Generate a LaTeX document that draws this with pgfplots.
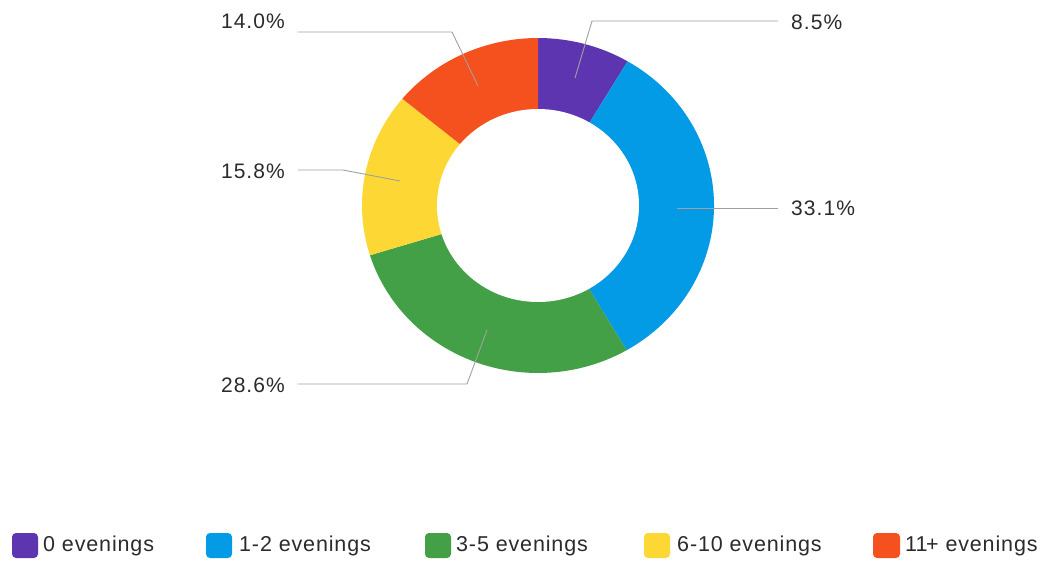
\documentclass[border=0pt]{standalone}
\usepackage{pgfplots}
\pgfplotsset{compat=1.18}
\usepackage{pgfplotstable}
\usepackage{fontspec}
\setmainfont{Liberation Sans}
\newfontfamily\spaced[LetterSpace=5]{Liberation Sans}
\newfontfamily\legspaced[LetterSpace=4]{Liberation Sans}

\definecolor{c0}{HTML}{5E35B1}
\definecolor{c1}{HTML}{039BE5}
\definecolor{c2}{HTML}{43A047}
\definecolor{c3}{HTML}{FDD835}
\definecolor{c4}{HTML}{F4511E}
\definecolor{lead}{HTML}{A0A0A0}
\definecolor{txt}{HTML}{2B2B2B}

% share of respondents, clockwise from 12 o'clock
\pgfplotstableread[col sep=comma]{
cat,val
0 evenings,8.5
1-2 evenings,33.1
3-5 evenings,28.6
6-10 evenings,15.8
11+ evenings,14.0
}\donut

\begin{document}
\begin{tikzpicture}
% start / end angle of every wedge
\def\cum{0}
\pgfplotsforeachungrouped \i in {0,...,4}{%
  \pgfplotstablegetelem{\i}{val}\of\donut
  \pgfmathsetmacro\a{90-3.6*\cum}%
  \pgfmathsetmacro\cumnew{\cum+\pgfplotsretval}%
  \pgfmathsetmacro\b{90-3.6*\cumnew}%
  \expandafter\xdef\csname sa\i\endcsname{\a}%
  \expandafter\xdef\csname ea\i\endcsname{\b}%
  \xdef\cum{\cumnew}%
}
\begin{axis}[
  hide axis, scale only axis,
  width=1041pt, height=560pt,
  xmin=0, xmax=1041, ymin=0, ymax=560,
  y dir=reverse, clip=false,
]
\pgfplotsinvokeforeach{0,...,4}{
  \fill[c#1] (axis cs:538,205.5) -- ++(\csname sa#1\endcsname:176pt and 167.5pt)
    arc[start angle=\csname sa#1\endcsname, end angle=\csname ea#1\endcsname,
        x radius=176pt, y radius=167.5pt] -- cycle;
}
\fill[white] (axis cs:538,205.5) ellipse[x radius=101pt, y radius=96.5pt];

% leader lines
\draw[lead, line width=0.9pt] (axis cs:575,78) -- (axis cs:592,21) -- (axis cs:778,21);
\draw[lead, line width=0.9pt] (axis cs:677,208) -- (axis cs:778,208);
\draw[lead, line width=0.9pt] (axis cs:487,330) -- (axis cs:467,384) -- (axis cs:298,384);
\draw[lead, line width=0.9pt] (axis cs:400,181) -- (axis cs:343,170) -- (axis cs:298,170);
\draw[lead, line width=0.9pt] (axis cs:478,86) -- (axis cs:452,32) -- (axis cs:298,32);

\begin{scope}[every node/.style={inner sep=0pt, text=txt, font=\spaced\fontsize{21}{24}\selectfont}]
\node[anchor=west] at (axis cs:791,22) {8.5\%};
\node[anchor=west] at (axis cs:791,208) {33.1\%};
\node[anchor=east] at (axis cs:285,385) {28.6\%};
\node[anchor=east] at (axis cs:285,171) {15.8\%};
\node[anchor=east] at (axis cs:285,21) {14.0\%};
\end{scope}

% legend
\begin{scope}[every node/.style={inner sep=0pt, anchor=west, text=txt, font=\legspaced\fontsize{21.5}{24}\selectfont}]
\fill[c0, rounded corners=4pt] (axis cs:12,533) rectangle (axis cs:38,558);
\node at (axis cs:43,546) {0 evenings};
\fill[c1, rounded corners=4pt] (axis cs:206,533) rectangle (axis cs:232,558);
\node at (axis cs:239,546) {1-2 evenings};
\fill[c2, rounded corners=4pt] (axis cs:425,533) rectangle (axis cs:451,558);
\node at (axis cs:456,546) {3-5 evenings};
\fill[c3, rounded corners=4pt] (axis cs:644,533) rectangle (axis cs:670,558);
\node at (axis cs:677,546) {6-10 evenings};
\fill[c4, rounded corners=4pt] (axis cs:873,533) rectangle (axis cs:900,558);
\node at (axis cs:905,546) {1\kern-1.5pt1\kern-1.5pt+ evenings};
\end{scope}
\end{axis}
\pgfresetboundingbox
\path (current axis.south west) rectangle (current axis.north east);
\end{tikzpicture}
\end{document}
